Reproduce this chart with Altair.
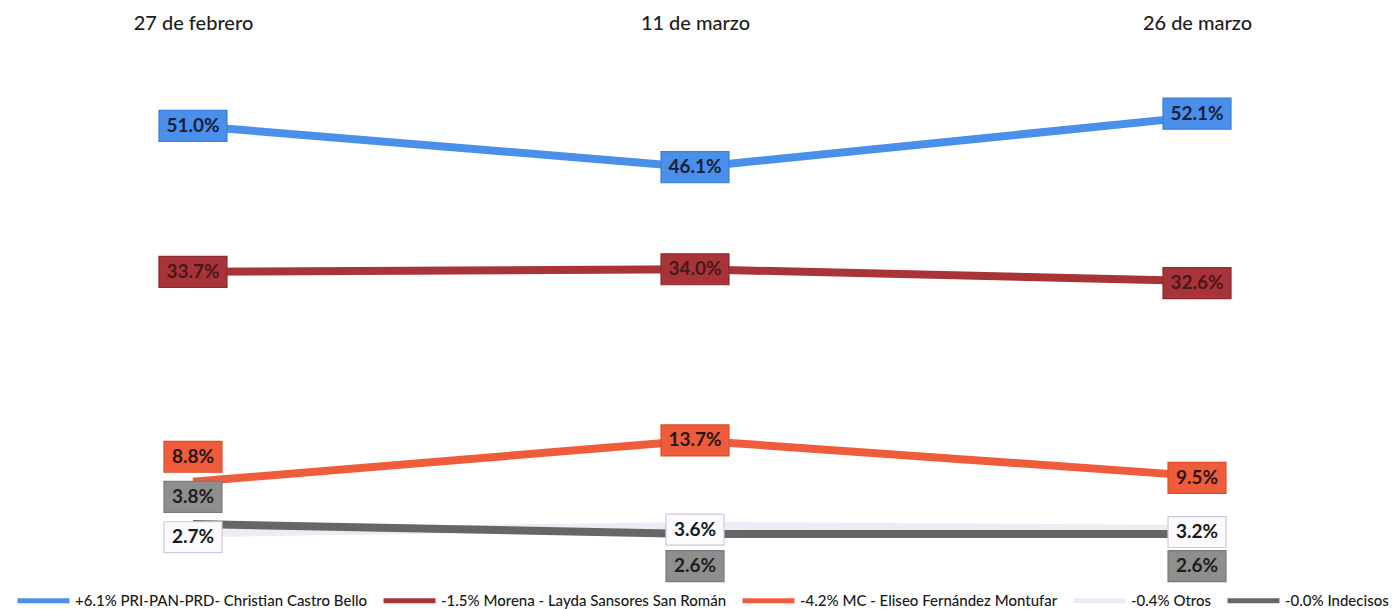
import altair as alt
import pandas as pd

# ---- data ----
fechas = ["27 de febrero", "11 de marzo", "26 de marzo"]
series = [
    "+6.1% PRI-PAN-PRD- Christian Castro Bello",
    "-1.5% Morena - Layda Sansores San Román",
    "-4.2% MC - Eliseo Fernández Montufar",
    "-0.4% Otros",
    "-0.0% Indecisos",
]
pri = [51.0, 46.1, 52.1]
morena = [33.7, 34.0, 32.6]
mc = [8.8, 13.7, 9.5]
otros = [2.7, 3.6, 3.2]
indecisos = [3.8, 2.6, 2.6]
valores = [pri, morena, mc, otros, indecisos]

# ---- layout / style (not data) ----
ALTO_PLOT = 506
Y_MAX = 60
desplaz = [  # label vertical offsets in px (positive = down)
    [0, 0, -3],
    [0, 0, 2],
    [-25, 0, 2],
    [4, 4, 3],
    [-27, 32, 32],
]
color_linea = ["#4A8FEA", "#A8343A", "#EE5C3C", "#EFEBF4", "#666666"]
color_caja = ["#4A8FEA", "#A8343A", "#EE5C3C", "#FBFAFD", "#8E8E8E"]
borde_caja = ["#3A7FDA", "#8E2A30", "#DD4C2C", "#D2C6E4", "#7A7A7A"]
color_texto = ["#16213A", "#4A1719", "#2A1610", "#1A1A1A", "#1E1E1E"]

rows = []
for i, s in enumerate(series):
    for j, f in enumerate(fechas):
        v = valores[i][j]
        rows.append(dict(
            fecha=f, serie=s, valor=v, etiqueta=f"{v:.1f}%", dy=desplaz[i][j],
            caja=color_caja[i], borde=borde_caja[i], ctexto=color_texto[i],
        ))
df = pd.DataFrame(rows)

ancho5 = 68
ancho4 = 58
alto = 31
forma5 = f"M-1,-{alto/ancho5:.3f}L1,-{alto/ancho5:.3f}L1,{alto/ancho5:.3f}L-1,{alto/ancho5:.3f}Z"
forma4 = f"M-1,-{alto/ancho4:.3f}L1,-{alto/ancho4:.3f}L1,{alto/ancho4:.3f}L-1,{alto/ancho4:.3f}Z"

eje_x = alt.X(
    "fecha:N", sort=fechas,
    scale=alt.Scale(type="point", padding=0.3685),
    axis=alt.Axis(orient="top", title=None, labelAngle=0, domain=False,
                  ticks=False, tickSize=0, grid=False, labelFontSize=20,
                  labelFont="Lato", labelFontWeight=500,
                  labelColor="#1E1E1E", labelPadding=17),
)
escala_y = alt.Scale(domain=[0, Y_MAX])

base = alt.Chart(df)

lineas = base.mark_line(strokeCap="butt", strokeWidth=8).encode(
    x=eje_x,
    y=alt.Y("valor:Q", scale=escala_y, axis=None),
    color=alt.Color(
        "serie:N",
        scale=alt.Scale(domain=series, range=color_linea),
        sort=series,
        legend=alt.Legend(
            orient="none", legendX=7, legendY=522, direction="horizontal",
            columns=5, title=None, symbolType="stroke", symbolSize=2700,
            symbolStrokeWidth=5, labelFontSize=15, labelFont="Lato",
            labelFontWeight=500, labelColor="#1A1A1A", labelLimit=600,
            columnPadding=5, labelOffset=3, padding=0,
        ),
    ),
)

etiquetas_base = base.transform_calculate(
    y_et=f"datum.valor - datum.dy * {Y_MAX} / {ALTO_PLOT}",
).encode(
    x=eje_x,
    y=alt.Y("y_et:Q", scale=escala_y, axis=None),
)

cajas = etiquetas_base.transform_calculate(
    forma=f"length(datum.etiqueta) > 4 ? '{forma5}' : '{forma4}'",
    area=f"length(datum.etiqueta) > 4 ? {ancho5*ancho5} : {ancho4*ancho4}",
).mark_point(filled=True, opacity=1, strokeWidth=1.2, strokeOpacity=1).encode(
    shape=alt.Shape("forma:N", scale=None),
    size=alt.Size("area:Q", scale=None),
    fill=alt.Fill("caja:N", scale=None),
    stroke=alt.Stroke("borde:N", scale=None),
)

textos = etiquetas_base.mark_text(fontSize=19, fontWeight="bold", font="Lato",
                                  baseline="middle", align="center").encode(
    text="etiqueta:N",
    fill=alt.Fill("ctexto:N", scale=None),
)

chart = alt.layer(lineas, cajas, textos).properties(
    width=1374, height=ALTO_PLOT,
    padding={"left": 0, "top": 42, "right": 8, "bottom": 53},
    autosize=alt.AutoSizeParams(type="none"),
).configure_view(stroke=None).configure_legend(symbolStrokeWidth=5)

chart.save("out.html", embed_options={"renderer": "svg", "actions": False})
